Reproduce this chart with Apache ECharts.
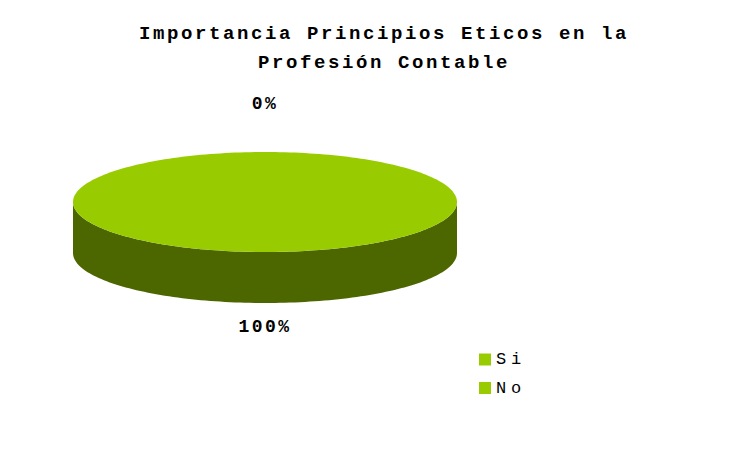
<!DOCTYPE html>
<html>
<head>
<meta charset="utf-8">
<title>Importancia Principios Eticos en la Profesión Contable</title>
<script src="https://cdn.jsdelivr.net/npm/echarts@6/dist/echarts.min.js"></script>
<style>
  html, body { margin: 0; padding: 0; background: #ffffff; }
  #chart { width: 750px; height: 458px; }
  /* typewriter-style tracking for the monospace texts */
  #chart text[style*="19px"] { letter-spacing: 2.6px; }
  #chart text[style*="18px"] { letter-spacing: 2.4px; }
  #chart text[style*="17px"] { letter-spacing: 4.8px; }
</style>
</head>
<body>
<div id="chart"></div>
<script>
// Survey answers (percent of respondents)
const categories = ['Si', 'No'];
const values = [100, 0];
const sliceColors = ['#99CC00', '#99CC00'];
const sideColors = ['#4C6600', '#4C6600'];
const titleText = 'Importancia Principios Eticos en la\nProfesión Contable';

const MONO = "'Liberation Mono', 'Courier New', monospace";

// Flattened 3D pie geometry
const PIE = { cx: 265, cy: 202, rx: 192, ry: 50, depth: 51, labelGap: 36, labelLift: 12 };

function sum(arr) { return arr.reduce((a, b) => a + b, 0); }

function arcPoints(a0, a1, dy) {
  const pts = [];
  const n = Math.max(2, Math.ceil(Math.abs(a1 - a0) / (2 * Math.PI) * 240));
  for (let k = 0; k <= n; k++) {
    const a = a0 + (a1 - a0) * k / n;
    pts.push([PIE.cx + PIE.rx * Math.cos(a), PIE.cy + PIE.ry * Math.sin(a) + dy]);
  }
  return pts;
}

function makeRenderer(idx) {
  return function (params, api) {
    const total = sum(values);
    const before = sum(values.slice(0, idx));
    const v = api.value(0);
    const a0 = -Math.PI / 2 + before / total * 2 * Math.PI;
    const a1 = a0 + v / total * 2 * Math.PI;
    const children = [];

    // visible front wall: part of the slice that faces the viewer
    const s = Math.max(a0, 0), e = Math.min(a1, Math.PI);
    if (v > 0 && s < e) {
      const wall = arcPoints(s, e, 0).concat(arcPoints(e, s, PIE.depth));
      children.push({ type: 'polygon', shape: { points: wall }, style: { fill: sideColors[idx] } });
    }

    // top face
    if (v > 0) {
      const full = Math.abs(a1 - a0) >= 2 * Math.PI - 1e-9;
      let pts = arcPoints(a0, a1, 0);
      if (!full) pts = [[PIE.cx, PIE.cy]].concat(pts);
      children.push({ type: 'polygon', shape: { points: pts }, style: { fill: sliceColors[idx] } });
    }

    // percentage label outside the rim
    const mid = (a0 + a1) / 2;
    const sinM = Math.sin(mid);
    const lx = PIE.cx + (PIE.rx + PIE.labelGap) * Math.cos(mid);
    const ly = PIE.cy + (PIE.ry + PIE.labelGap) * sinM + (sinM > 0 ? PIE.depth : 0) - PIE.labelLift;
    children.push({
      type: 'text',
      z2: 10,
      style: {
        text: Math.round(v / total * 100) + '%',
        x: lx, y: ly,
        align: 'center', verticalAlign: 'middle',
        fontFamily: MONO, fontSize: 18, fontWeight: 'bold',
        fill: '#000000'
      }
    });
    return { type: 'group', children: children };
  };
}

const chart = echarts.init(document.getElementById('chart'), null, { renderer: 'svg' });

chart.setOption({
  animation: false,
  backgroundColor: '#ffffff',
  title: {
    text: titleText,
    left: 384,
    textAlign: 'center',
    top: 19.5,
    padding: 0,
    textStyle: {
      fontFamily: MONO, fontSize: 19, fontWeight: 'bold',
      lineHeight: 29, color: '#000000'
    }
  },
  legend: {
    data: categories,
    orient: 'vertical',
    left: 474,
    top: 346,
    icon: 'rect',
    itemWidth: 12,
    itemHeight: 12,
    itemGap: 11.5,
    selectedMode: false,
    textStyle: { fontFamily: MONO, fontSize: 17, color: '#000000' }
  },
  series: categories.map((name, i) => ({
    type: 'custom',
    name: name,
    coordinateSystem: 'none',
    itemStyle: { color: sliceColors[i] },
    silent: true,
    z: i === 0 ? 2 : 3,
    data: [[values[i]]],
    renderItem: makeRenderer(i)
  }))
});
</script>
</body>
</html>
